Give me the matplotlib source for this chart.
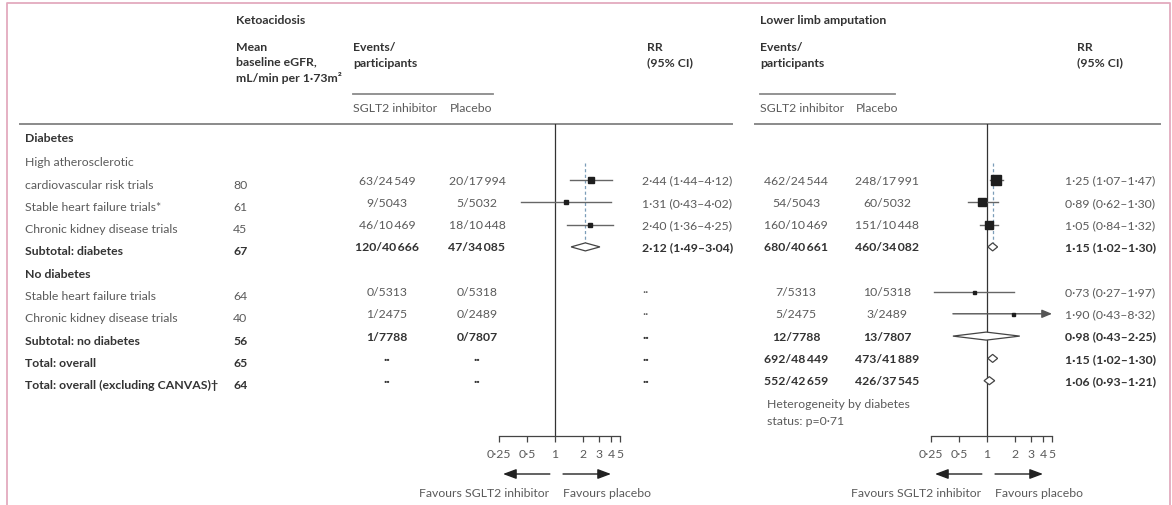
import numpy as np
import matplotlib
matplotlib.use("Agg")
import matplotlib.pyplot as plt
from matplotlib.patches import Polygon
from matplotlib.ticker import NullLocator
from matplotlib.transforms import blended_transform_factory

# 行标签与基线 eGFR
row_labels = ["cardiovascular risk trials", "Stable heart failure trials*",
              "Chronic kidney disease trials", "Subtotal: diabetes", "No diabetes",
              "Stable heart failure trials", "Chronic kidney disease trials",
              "Subtotal: no diabetes", "Total: overall",
              "Total: overall (excluding CANVAS)\u2020"]
egfr = [80, 61, 45, 67, None, 64, 40, 56, 65, 64]
bold_rows = [3, 4, 7, 8, 9]
pooled_rows = [3, 7, 8, 9]
header_row = 4

# 酮症酸中毒
keto_sglt2_events = [63, 9, 46, 120, None, 0, 1, 1, None, None]
keto_sglt2_n = [24549, 5043, 10469, 40666, None, 5313, 2475, 7788, None, None]
keto_placebo_events = [20, 5, 18, 47, None, 0, 0, 0, None, None]
keto_placebo_n = [17994, 5032, 10448, 34085, None, 5318, 2489, 7807, None, None]
keto_rr = [2.44, 1.31, 2.40, 2.12, None, None, None, None, None, None]
keto_lo = [1.44, 0.43, 1.36, 1.49, None, None, None, None, None, None]
keto_hi = [4.12, 4.02, 4.25, 3.04, None, None, None, None, None, None]

# 下肢截肢
limb_sglt2_events = [462, 54, 160, 680, None, 7, 5, 12, 692, 552]
limb_sglt2_n = [24544, 5043, 10469, 40661, None, 5313, 2475, 7788, 48449, 42659]
limb_placebo_events = [248, 60, 151, 460, None, 10, 3, 13, 473, 426]
limb_placebo_n = [17991, 5032, 10448, 34082, None, 5318, 2489, 7807, 41889, 37545]
limb_rr = [1.25, 0.89, 1.05, 1.15, None, 0.73, 1.90, 0.98, 1.15, 1.06]
limb_lo = [1.07, 0.62, 0.84, 1.02, None, 0.27, 0.43, 0.43, 1.02, 0.93]
limb_hi = [1.47, 1.30, 1.32, 1.30, None, 1.97, 8.32, 2.25, 1.30, 1.21]

ticks = [0.25, 0.5, 1, 2, 3, 4, 5]
tick_labels = ["0\u00b725", "0\u00b75", "1", "2", "3", "4", "5"]

# 样式
W, H = 1172, 506
ROW0, ROWH = 181, 22.3
AX_TOP, AX_BOT = 125, 437
PX2 = 28  # 每倍数像素
FS = 8.8
GREY = "#5b5b5b"
DARK = "#333333"
keto_box = [6, 3.5, 5, 0, 0, 0, 0, 0, 0, 0]
limb_box = [10, 7.5, 7.5, 0, 0, 3, 3, 0, 0, 0]

plt.rcParams["font.family"] = ["Lato", "DejaVu Sans"]

fig = plt.figure(figsize=(W / 100, H / 100), dpi=100)
ax = fig.add_axes([0, 0, 1, 1])
ax.set_xlim(0, W)
ax.set_ylim(H, 0)
ax.axis("off")

# 粉色边框
ax.plot([7, 7, 1170, 1170], [H, 3.5, 3.5, H], color="#e3aabe", lw=1.3, clip_on=False)


def row_y(k):
    return ROW0 + ROWH * k


def put(x, y, s, bold=False, ha="left", color=None):
    ax.text(x, y, s, fontsize=FS, fontweight="bold" if bold else "normal",
            color=color or (DARK if bold else GREY), ha=ha, va="center")


def fmt_n(n):
    s = str(n)
    if len(s) >= 5:
        s = s[:-3] + "\u2009" + s[-3:]
    return s


def fmt_ev(e, n):
    if e is None:
        return "\u00b7\u00b7"
    return f"{e}/{fmt_n(n)}"


def fmt_rr(r, lo, hi):
    if r is None:
        return "\u00b7\u00b7"
    return f"{r:.2f} ({lo:.2f}\u2013{hi:.2f})".replace(".", "\u00b7")


# 左侧标签列
put(25, 138, "Diabetes", bold=True)
put(25, row_y(-1) + 4, "High atherosclerotic")
for k, lab in enumerate(row_labels):
    put(25, row_y(k) + 4, lab, bold=k in bold_rows)
    if egfr[k] is not None:
        put(233, row_y(k) + 4, str(egfr[k]), bold=k in bold_rows)

# 表头
put(236, 20, "Ketoacidosis", bold=True)
put(236, 47, "Mean", bold=True)
put(236, 62, "baseline eGFR,", bold=True)
put(236, 78, "mL/min per 1\u00b773m\u00b2", bold=True)
put(760, 20, "Lower limb amputation", bold=True)
for x0, x1, xp, xr in [(353, 493, 450, 647), (760, 895, 856, 1077)]:
    put(x0, 47, "Events/", bold=True)
    put(x0, 63, "participants", bold=True)
    ax.plot([x0, x1], [95, 95], color="#8a8a8a", lw=1.3)
    put(x0, 108, "SGLT2 inhibitor")
    put(xp, 108, "Placebo")
    put(xr, 47, "RR", bold=True)
    put(xr, 63, "(95% CI)", bold=True)
ax.plot([20, 732], [AX_TOP, AX_TOP], color="#8a8a8a", lw=1.4)
ax.plot([755, 1160], [AX_TOP, AX_TOP], color="#8a8a8a", lw=1.4)

put(767, 405, "Heterogeneity by diabetes")
put(767, 422, "status: p=0\u00b771")


def panel(xc, sg_e, sg_n, pl_e, pl_n, rr, lo, hi, box, x_sg, x_pl, x_rr):
    # 数字列
    for k in range(len(rr)):
        if k == header_row:
            continue
        b = k in bold_rows
        put(x_sg, row_y(k), fmt_ev(sg_e[k], sg_n[k]), bold=b, ha="center")
        put(x_pl, row_y(k), fmt_ev(pl_e[k], pl_n[k]), bold=b, ha="center")
        put(x_rr, row_y(k), fmt_rr(rr[k], lo[k], hi[k]), bold=b)

    # 森林图坐标轴
    x0 = xc - PX2 * 2
    x1 = xc + PX2 * np.log2(5)
    fax = fig.add_axes([x0 / W, 1 - AX_BOT / H, (x1 - x0) / W, (AX_BOT - AX_TOP) / H])
    fax.patch.set_alpha(0)
    fax.set_xscale("log", base=2)
    fax.set_xlim(0.25, 5)
    fax.set_ylim((AX_BOT - ROW0) / ROWH, (AX_TOP - ROW0) / ROWH)
    for s in ["top", "left", "right"]:
        fax.spines[s].set_visible(False)
    fax.spines["bottom"].set_color("#444444")
    fax.spines["bottom"].set_linewidth(0.9)
    fax.set_xticks(ticks)
    fax.set_xticklabels(tick_labels, fontsize=FS, color=GREY)
    fax.xaxis.set_minor_locator(NullLocator())
    fax.tick_params(axis="x", length=4.3, width=0.9, color="#444444", pad=4)
    fax.set_yticks([])
    fax.axvline(1, color="#333333", lw=0.9)

    h = 0.18
    fax.plot([rr[3], rr[3]], [-0.75, 3 - h], ls=(0, (2.5, 2)), color="#7b9db8", lw=0.9)
    for k in range(len(rr)):
        if rr[k] is None:
            continue
        if k in pooled_rows:
            fax.add_patch(Polygon([(lo[k], k), (rr[k], k - h), (hi[k], k), (rr[k], k + h)],
                                  closed=True, fc="white", ec="#444444", lw=0.9, zorder=3))
            continue
        if hi[k] > 5:
            fax.annotate("", xy=(5, k), xytext=(lo[k], k),
                         arrowprops=dict(arrowstyle="-|>,head_length=0.6,head_width=0.25",
                                         color="#555555", lw=1, shrinkA=0, shrinkB=0),
                         annotation_clip=False)
        else:
            fax.plot([lo[k], hi[k]], [k, k], color="#666666", lw=1)
        fax.plot(rr[k], k, marker="s", ms=box[k] * 0.72, color="#1e1e1e", zorder=4)

    # 方向箭头
    tr = blended_transform_factory(fax.transData, ax.transData)
    for tail, tip in [(0.88, 0.276), (1.22, 4)]:
        fax.annotate("", xy=(tip, 475), xycoords=tr, xytext=(tail, 475), textcoords=tr,
                     arrowprops=dict(arrowstyle="-|>,head_length=0.8,head_width=0.3",
                                     color="#222222", lw=1, shrinkA=0, shrinkB=0),
                     annotation_clip=False)
    put(xc - 6, 494, "Favours SGLT2 inhibitor", ha="right")
    put(xc + 8, 494, "Favours placebo")


panel(555, keto_sglt2_events, keto_sglt2_n, keto_placebo_events, keto_placebo_n,
      keto_rr, keto_lo, keto_hi, keto_box, 387, 477, 642)
panel(987, limb_sglt2_events, limb_sglt2_n, limb_placebo_events, limb_placebo_n,
      limb_rr, limb_lo, limb_hi, limb_box, 796, 887, 1065)

fig.savefig("out.png", dpi=100)
